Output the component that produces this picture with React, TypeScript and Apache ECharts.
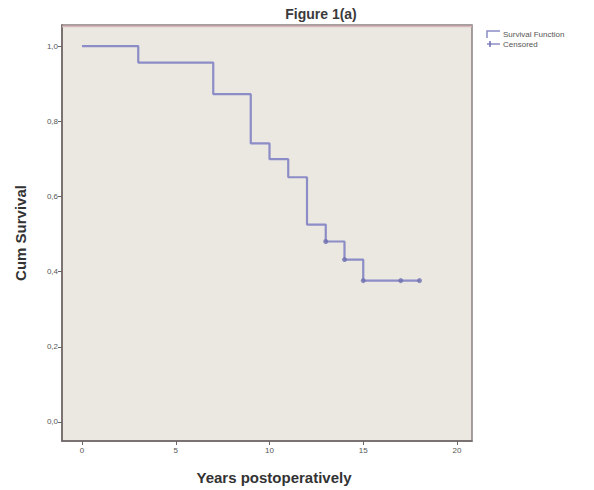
import React, { useEffect, useRef } from "react";
import * as echarts from "echarts";

const survivalTimes = [0, 3, 7, 9, 10, 11, 12, 13, 14, 15, 18];
const survivalValues = [1.0, 0.956, 0.872, 0.741, 0.699, 0.651, 0.525, 0.48, 0.432, 0.376, 0.376];
const censoredTimes = [13, 14, 15, 17, 18];
const censoredValues = [0.48, 0.432, 0.376, 0.376, 0.376];
const xTicks = [0, 5, 10, 15, 20];
const yTicks = [0, 0.2, 0.4, 0.6, 0.8, 1.0];
const legendNames = ["Survival Function", "Censored"];

export default function App() {
  const ref = useRef<HTMLDivElement>(null);
  useEffect(() => {
    if (!ref.current) return;
    const chart = echarts.init(ref.current, null, { renderer: "svg" });
    const font = "Liberation Sans, Arial, sans-serif";
    const lineColor = "#8c8cc6";
    const markColor = "#6f6fb0";
    chart.setOption({
      animation: false,
      backgroundColor: "#ffffff",
      title: {
        text: "Figure 1(a)",
        left: 316,
        top: 2,
        textAlign: "center",
        textStyle: { fontFamily: font, fontSize: 14, fontWeight: "bold", color: "#3a3a3a" },
      },
      grid: {
        left: 62,
        top: 25,
        width: 410,
        height: 416,
        show: true,
        backgroundColor: "#ebe8e2",
        borderColor: "#8a7f80",
        borderWidth: 1.5,
      },
      xAxis: {
        type: "value",
        min: -1.067,
        max: 20.8,
        splitLine: { show: false },
        axisLine: { show: true, onZero: false, lineStyle: { color: "#6e6465", width: 1.5 } },
        axisTick: { show: true, length: 4, customValues: xTicks, lineStyle: { color: "#6e6465" } },
        axisLabel: {
          customValues: xTicks,
          fontFamily: font,
          fontSize: 8,
          color: "#555",
          margin: 5,
        },
        name: "Years postoperatively",
        nameLocation: "middle",
        nameGap: 29,
        nameTextStyle: {
          fontFamily: font,
          fontSize: 15,
          fontWeight: "bold",
          color: "#333",
          padding: [0, 0, 0, 14],
        },
      },
      yAxis: {
        type: "value",
        min: -0.0507,
        max: 1.056,
        splitLine: { show: false },
        axisLine: { show: true, onZero: false, lineStyle: { color: "#6e6465", width: 1.5 } },
        axisTick: { show: true, length: 4, customValues: yTicks, lineStyle: { color: "#6e6465" } },
        axisLabel: {
          customValues: yTicks,
          formatter: (v: number) => v.toFixed(1).replace(".", ","),
          fontFamily: font,
          fontSize: 8,
          color: "#555",
          margin: 4,
        },
        name: "Cum Survival",
        nameLocation: "middle",
        nameGap: 34,
        nameTextStyle: { fontFamily: font, fontSize: 15, fontWeight: "bold", color: "#333" },
      },
      series: [
        {
          name: legendNames[0],
          type: "line",
          step: "end",
          showSymbol: false,
          symbol: "none",
          data: survivalTimes.map((t, i) => [t, survivalValues[i]]),
          lineStyle: { color: lineColor, width: 2.2 },
          itemStyle: { color: lineColor },
        },
        {
          name: legendNames[1],
          type: "scatter",
          symbol: "circle",
          symbolSize: 5,
          data: censoredTimes.map((t, i) => [t, censoredValues[i]]),
          itemStyle: { color: markColor },
          z: 3,
        },
      ],
      graphic: [
        {
          type: "line",
          shape: { x1: 62, y1: 26.5, x2: 472, y2: 26.5 },
          style: { stroke: "#d9b7bc", lineWidth: 1.5 },
          z: 100,
        },
        {
          type: "polyline",
          shape: { points: [[487, 38], [487, 31], [500, 31]] },
          style: { stroke: lineColor, lineWidth: 1.5, fill: null },
        },
        {
          type: "text",
          x: 503,
          y: 34,
          style: {
            text: legendNames[0],
            font: "8px " + font,
            fill: "#555",
            verticalAlign: "middle",
          },
        },
        {
          type: "line",
          shape: { x1: 487, y1: 44, x2: 500, y2: 44 },
          style: { stroke: lineColor, lineWidth: 1.5 },
        },
        {
          type: "line",
          shape: { x1: 490, y1: 41, x2: 490, y2: 47 },
          style: { stroke: markColor, lineWidth: 1.5 },
        },
        {
          type: "text",
          x: 503,
          y: 44,
          style: {
            text: legendNames[1],
            font: "8px " + font,
            fill: "#555",
            verticalAlign: "middle",
          },
        },
      ],
    });
    return () => chart.dispose();
  }, []);
  return (
    <div
      ref={ref}
      style={{ position: "fixed", left: 0, top: 0, width: 594, height: 490 }}
    />
  );
}
